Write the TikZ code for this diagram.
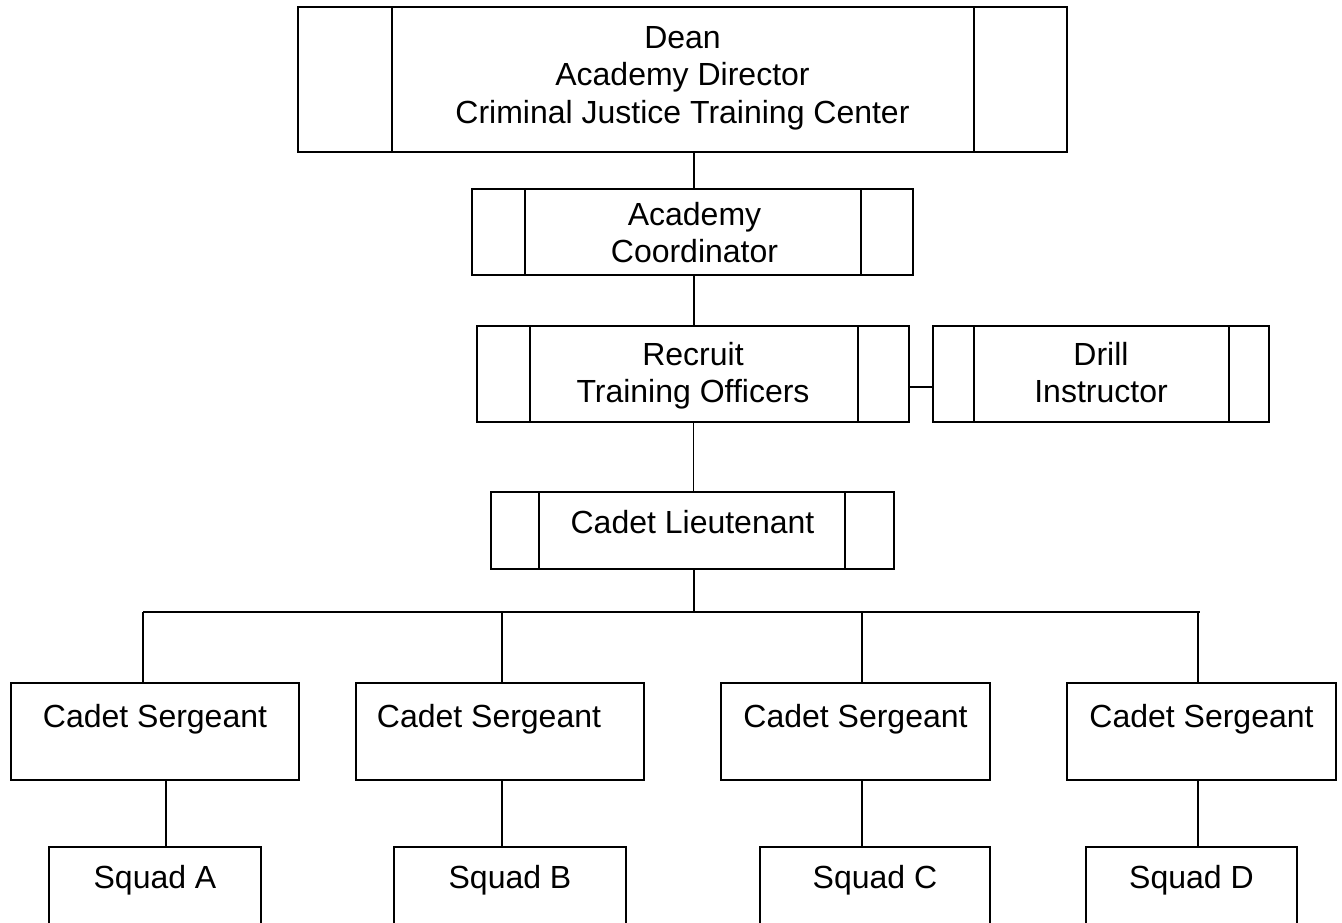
\documentclass[tikz,border=0pt]{standalone}
\usepackage{fontspec}
\setmainfont{Liberation Sans}
\newcommand{\fl}{\rule{0pt}{30pt}}
\tikzset{
  box/.style={draw, line width=2pt, rectangle, inner sep=0pt, outer sep=0pt,
    minimum width=#1},
  sidebox/.style 2 args={path picture={
      \draw[line width=2pt] ([xshift=#1pt]path picture bounding box.north west) -- ([xshift=#1pt]path picture bounding box.south west);
      \draw[line width=2pt] ([xshift=-#2pt]path picture bounding box.north east) -- ([xshift=-#2pt]path picture bounding box.south east);
  }},
  lbl/.style={inner sep=0pt, outer sep=0pt, align=center, anchor=north,
    font=\fontsize{32}{37.5}\selectfont},
  conn/.style={draw, line width=1.8pt}
}
\begin{document}
\begin{tikzpicture}[x=1pt, y=-1pt]
\useasboundingbox (0,0) rectangle (1342,922);
\clip (0,0) rectangle (1342,922);

% top levels
\node[box=769pt, minimum height=145pt, line width=2.5pt, sidebox={94}{93},
  label={[lbl, yshift=-11pt]north:{\fl Dean\\Academy Director\\Criminal Justice Training Center}}]
  (dean) at (682.5,79.5) {};
\node[box=441pt, minimum height=86pt, sidebox={53}{52},
  label={[lbl, yshift=-6pt, xshift=2pt]north:{\fl Academy\\Coordinator}}]
  (acad) at (692.5,232) {};
\node[box=432pt, minimum height=96pt, sidebox={53}{51},
  label={[lbl, yshift=-9pt]north:{\fl Recruit\\Training Officers}}]
  (recruit) at (693,374) {};
\node[box=336pt, minimum height=96pt, sidebox={41}{40},
  label={[lbl, yshift=-9pt]north:{\fl Drill\\Instructor}}]
  (drill) at (1101,374) {};
\node[box=403pt, minimum height=77pt, sidebox={48}{49},
  label={[lbl, yshift=-11pt]north:{\fl Cadet Lieutenant}}]
  (cadetlt) at (692.5,530.5) {};

% sergeants
\node[box=288pt, minimum height=97pt,
  label={[lbl, yshift=-14pt]north:{\fl Cadet Sergeant}}] (sgt1) at (155,731.5) {};
\node[box=288pt, minimum height=97pt,
  label={[lbl, yshift=-14pt, xshift=-11pt]north:{\fl Cadet Sergeant}}] (sgt2) at (500,731.5) {};
\node[box=269pt, minimum height=97pt,
  label={[lbl, yshift=-14pt]north:{\fl Cadet Sergeant}}] (sgt3) at (855.5,731.5) {};
\node[box=269pt, minimum height=97pt,
  label={[lbl, yshift=-14pt]north:{\fl Cadet Sergeant}}] (sgt4) at (1201.5,731.5) {};

% squads
\node[box=212pt, minimum height=100pt,
  label={[lbl, yshift=-11pt]north:{\fl Squad A}}] (sq1) at (155,897) {};
\node[box=232pt, minimum height=100pt,
  label={[lbl, yshift=-11pt]north:{\fl Squad B}}] (sq2) at (510,897) {};
\node[box=230pt, minimum height=100pt,
  label={[lbl, yshift=-11pt]north:{\fl Squad C}}] (sq3) at (875,897) {};
\node[box=211pt, minimum height=100pt,
  label={[lbl, yshift=-11pt]north:{\fl Squad D}}] (sq4) at (1191.5,897) {};

% bus coordinates
\coordinate (busL) at (143,612);
\coordinate (busR) at (1200,612);
\coordinate (d1) at (143,612);
\coordinate (d2) at (502,612);
\coordinate (d3) at (862,612);
\coordinate (d4) at (1198,612);

% connectors
\draw[conn] ([xshift=1.5pt]acad.north) -- ([xshift=1.5pt]acad.north |- dean.south);
\draw[conn] ([xshift=1pt]recruit.north) -- ([xshift=1pt]recruit.north |- acad.south);
\draw[conn] ([yshift=-13pt]recruit.east) -- ([yshift=-13pt]recruit.east -| drill.west);
\draw[conn] ([xshift=1pt]cadetlt.north) -- ([xshift=1pt]cadetlt.north |- recruit.south);
\draw[conn] ([xshift=1.5pt]cadetlt.south) -- ([xshift=1.5pt]cadetlt.south |- busL);
\draw[conn] (busL) -- (busR);
\draw[conn] (d1) -- (d1 |- sgt1.north);
\draw[conn] (d2) -- (d2 |- sgt2.north);
\draw[conn] (d3) -- (d3 |- sgt3.north);
\draw[conn] (d4) -- (d4 |- sgt4.north);
\draw[conn] ([xshift=11pt]sgt1.south) -- ([xshift=11pt]sgt1.south |- sq1.north);
\draw[conn] ([xshift=2pt]sgt2.south) -- ([xshift=2pt]sgt2.south |- sq2.north);
\draw[conn] ([xshift=6.5pt]sgt3.south) -- ([xshift=6.5pt]sgt3.south |- sq3.north);
\draw[conn] ([xshift=-3.5pt]sgt4.south) -- ([xshift=-3.5pt]sgt4.south |- sq4.north);
\end{tikzpicture}
\end{document}
